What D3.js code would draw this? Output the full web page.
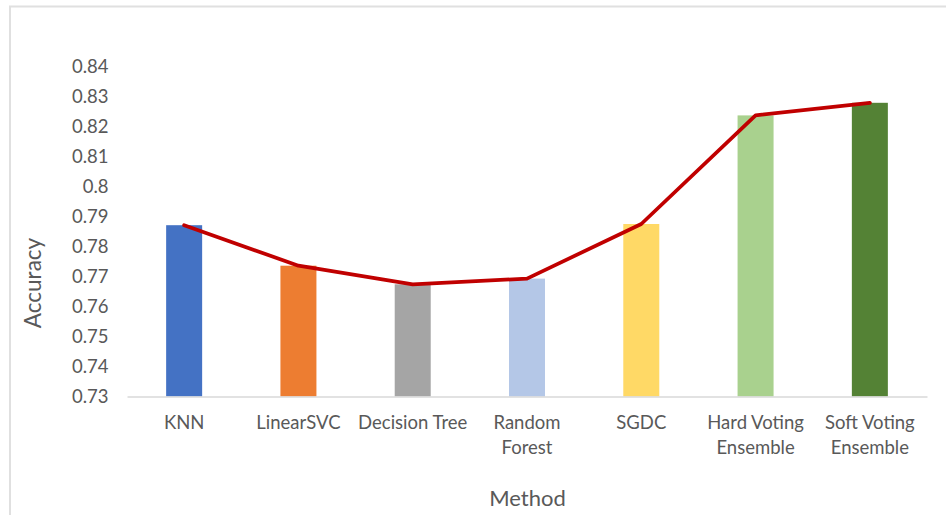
<!DOCTYPE html>
<html>
<head>
<meta charset="utf-8">
<script src="https://cdn.jsdelivr.net/npm/d3@7"></script>
<style>
  html, body { margin: 0; padding: 0; background: #fff; }
  svg { display: block; }
  text { font-family: Lato, "Noto Sans", sans-serif; fill: #595959; }
</style>
</head>
<body>
<svg id="chart" width="946" height="515"></svg>
<script>
// Classifier accuracy per method
const methods = ["KNN", "LinearSVC", "Decision Tree", "Random Forest", "SGDC", "Hard Voting Ensemble", "Soft Voting Ensemble"];
const methodLines = [["KNN"], ["LinearSVC"], ["Decision Tree"], ["Random", "Forest"], ["SGDC"], ["Hard Voting", "Ensemble"], ["Soft Voting", "Ensemble"]];
const accuracy = [0.7871, 0.7736, 0.7674, 0.7693, 0.7875, 0.8237, 0.8279];
const barColors = ["#4472C4", "#ED7D31", "#A5A5A5", "#B4C7E7", "#FFD966", "#A9D18E", "#548235"];
const yTicks = [0.73, 0.74, 0.75, 0.76, 0.77, 0.78, 0.79, 0.80, 0.81, 0.82, 0.83, 0.84];

const svg = d3.select("#chart");
const W = 946, H = 515;
const plot = { left: 127, right: 927, top: 66.5, bottom: 396.5 };

// chart frame (only top and left edges fall inside the view)
svg.append("rect")
  .attr("x", 10).attr("y", 6.5)
  .attr("width", W + 20).attr("height", H + 20)
  .attr("fill", "none").attr("stroke", "#E0E0E0").attr("stroke-width", 2);

const x = d3.scaleBand().domain(methods).range([plot.left, plot.right]).padding(0);
const y = d3.scaleLinear().domain([0.73, 0.84]).range([plot.bottom, plot.top]);
const barW = x.bandwidth() * 0.315;

// y axis labels
const yAxis = d3.axisLeft(y).tickValues(yTicks).tickSize(0).tickPadding(0)
  .tickFormat(d => String(+d.toFixed(2)));
const gy = svg.append("g").attr("transform", `translate(108.5,0)`).call(yAxis);
gy.select(".domain").remove();
gy.selectAll("text").style("font-size", "18.5px").attr("fill", "#595959")
  .style("font-family", "Lato, 'Noto Sans', sans-serif");

// bars
svg.append("g").selectAll("rect").data(methods).join("rect")
  .attr("x", d => x(d) + x.bandwidth() / 2 - barW / 2)
  .attr("y", (d, i) => y(accuracy[i]))
  .attr("width", barW)
  .attr("height", (d, i) => y(0.73) - y(accuracy[i]))
  .attr("fill", (d, i) => barColors[i]);

// x axis
const xAxis = d3.axisBottom(x).tickSize(0).tickFormat("");
const gx = svg.append("g").attr("transform", `translate(0,${plot.bottom})`).call(xAxis);
gx.select(".domain").attr("stroke", "#D9D9D9").attr("stroke-width", 1.5);

// category labels (wrapped)
const lab = svg.append("g").selectAll("text").data(methods).join("text")
  .attr("text-anchor", "middle")
  .style("font-size", "18.5px");
lab.each(function (d, i) {
  const t = d3.select(this);
  methodLines[i].forEach((ln, j) => {
    t.append("tspan")
      .attr("x", x(d) + x.bandwidth() / 2)
      .attr("y", 429 + j * 25)
      .text(ln);
  });
});

// trend line through bar tops
const line = d3.line()
  .x((d, i) => x(methods[i]) + x.bandwidth() / 2)
  .y(d => y(d));
svg.append("path").datum(accuracy)
  .attr("d", line)
  .attr("fill", "none")
  .attr("stroke", "#C00000")
  .attr("stroke-width", 3.75)
  .attr("stroke-linejoin", "round")
  .attr("stroke-linecap", "round");

// axis titles
svg.append("text")
  .attr("transform", "translate(41,283) rotate(-90)")
  .attr("text-anchor", "middle")
  .style("font-size", "22.5px")
  .text("Accuracy");
svg.append("text")
  .attr("x", 527.5).attr("y", 506)
  .attr("text-anchor", "middle")
  .style("font-size", "22px")
  .text("Method");
</script>
</body>
</html>
